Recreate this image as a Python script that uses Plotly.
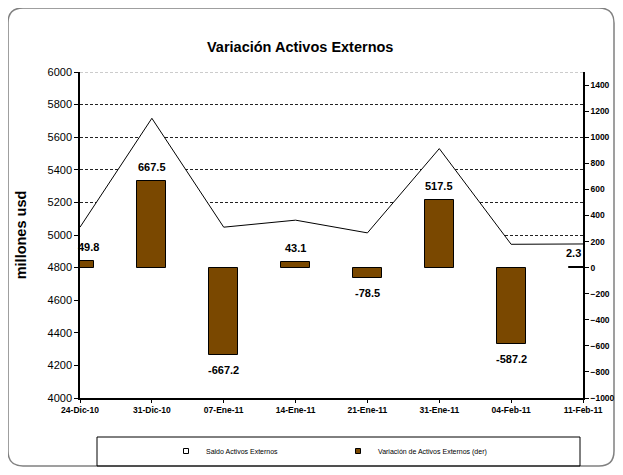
import plotly.graph_objects as go

categories = ["24-Dic-10", "31-Dic-10", "07-Ene-11", "14-Ene-11",
              "21-Ene-11", "31-Ene-11", "04-Feb-11", "11-Feb-11"]
saldo = [5048, 5716, 5048, 5091, 5013, 5530, 4943, 4945]
variacion = [49.8, 667.5, -667.2, 43.1, -78.5, 517.5, -587.2, 2.3]
left_ticks = [4000, 4200, 4400, 4600, 4800, 5000, 5200, 5400, 5600, 5800, 6000]
right_ticks = [-1000, -800, -600, -400, -200, 0, 200, 400, 600, 800, 1000, 1200, 1400]

# page body has an 8px default margin; figure fits inside the window
OFF = 8
W, H = 623 - OFF, 475 - OFF
# plot area in screen pixels
SL, SR, ST, SB = 80, 583, 72, 398
L, R, T, B = SL - OFF, SR - OFF, ST - OFF, SB - OFF
PW, PH = R - L, B - T

def px(x):  # screen x -> paper
    return (x - OFF - L) / PW

def py(y):  # screen y -> paper
    return (B - (y - OFF)) / PH

FONT = "Liberation Sans, Arial, sans-serif"
BROWN = "#7a4800"

fig = go.Figure()
fig.add_trace(go.Scatter(
    x=categories, y=saldo, name="Saldo Activos Externos",
    mode="lines", fill="tozeroy", fillcolor="white",
    line=dict(color="black", width=1), yaxis="y", showlegend=False))
fig.add_trace(go.Bar(
    x=categories, y=variacion, name="Variación de Activos Externos (der)",
    marker=dict(color=BROWN, line=dict(color="black", width=1)),
    width=0.4, yaxis="y2", showlegend=False))
# legend entries (small square keys as in the reference)
fig.add_trace(go.Scatter(
    x=[None], y=[None], name="Saldo Activos Externos", mode="markers",
    marker=dict(symbol="square", size=5, color="white",
                line=dict(color="black", width=1))))
fig.add_trace(go.Scatter(
    x=[None], y=[None], name="Variación de Activos Externos (der)", mode="markers",
    marker=dict(symbol="square", size=5, color=BROWN,
                line=dict(color="black", width=1))))

annotations = []
n = len(categories)
for i, (c, v) in enumerate(zip(categories, variacion)):
    xs = 0
    if i == 0:
        xs = 8
    elif i == n - 1:
        xs = -10
    annotations.append(dict(
        x=c, y=v, xref="x", yref="y2", text=f"<b>{v:.1f}</b>", showarrow=False,
        yanchor="bottom" if v >= 0 else "top", yshift=6 if v >= 0 else -7,
        xshift=xs, font=dict(family=FONT, size=11, color="black")))

annotations.append(dict(
    x=px(300), y=py(47), xref="paper", yref="paper",
    text="<b>Variación Activos Externos</b>", showarrow=False,
    xanchor="center", yanchor="middle",
    font=dict(family=FONT, size=14.5, color="black")))

# outer rounded frame
x0, y0, x1, y1, r = px(8), py(8), px(614), py(466), 15
rx, ry = r / PW, r / PH
path = (f"M {x0+rx},{y0} L {x1-rx},{y0} Q {x1},{y0} {x1},{y0-ry} "
        f"L {x1},{y1+ry} Q {x1},{y1} {x1-rx},{y1} L {x0+rx},{y1} "
        f"Q {x0},{y1} {x0},{y1+ry} L {x0},{y0-ry} Q {x0},{y0} {x0+rx},{y0} Z")
shapes = [
    dict(type="path", xref="paper", yref="paper", path=path,
         line=dict(color="#808080", width=1.5), layer="below"),
    dict(type="rect", xref="paper", yref="paper",
         x0=px(97), x1=px(580), y0=py(437), y1=py(466),
         line=dict(color="black", width=1), fillcolor="rgba(0,0,0,0)"),
    dict(type="line", xref="paper", yref="y", x0=0, x1=1, y0=6000, y1=6000,
         line=dict(color="#999999", width=1, dash="3px,2px")),
]

fig.update_layout(
    width=W, height=H,
    margin=dict(l=L, r=W - R, t=T, b=H - B, pad=0, autoexpand=False),
    paper_bgcolor="white", plot_bgcolor="white",
    font=dict(family=FONT, color="black"),
    showlegend=True,
    legend=dict(orientation="h", x=px(166), y=py(451), xanchor="left",
                yanchor="middle", bgcolor="rgba(0,0,0,0)",
                font=dict(family=FONT, size=7), entrywidth=127,
                itemwidth=30, traceorder="normal"),
    xaxis=dict(type="category", range=[0, n - 1], showline=True,
               linecolor="black", linewidth=1.5, ticks="outside", ticklen=3,
               tickcolor="black", showgrid=False, automargin=False,
               tickfont=dict(family=FONT, size=8.5, weight="bold")),
    yaxis=dict(range=[4000, 6000], tickvals=left_ticks, showline=True,
               linecolor="black", linewidth=1.5, ticks="outside", ticklen=4,
               tickcolor="black", showgrid=True, gridcolor="#222",
               griddash="3px,2px", gridwidth=1, zeroline=False,
               automargin=False,
               tickfont=dict(family=FONT, size=11),
               title=dict(text="millones usd", standoff=17,
                          font=dict(family=FONT, size=14.5, weight="bold"))),
    yaxis2=dict(range=[-1000, 1500], tickvals=right_ticks, overlaying="y",
                side="right", showline=True, linecolor="black", linewidth=1.5,
                ticks="outside", ticklen=4, tickcolor="black", showgrid=False,
                zeroline=False, automargin=False,
                tickfont=dict(family=FONT, size=8.5, weight="bold")),
    annotations=annotations, shapes=shapes,
    bargap=0,
)

fig.write_html("out.html")
